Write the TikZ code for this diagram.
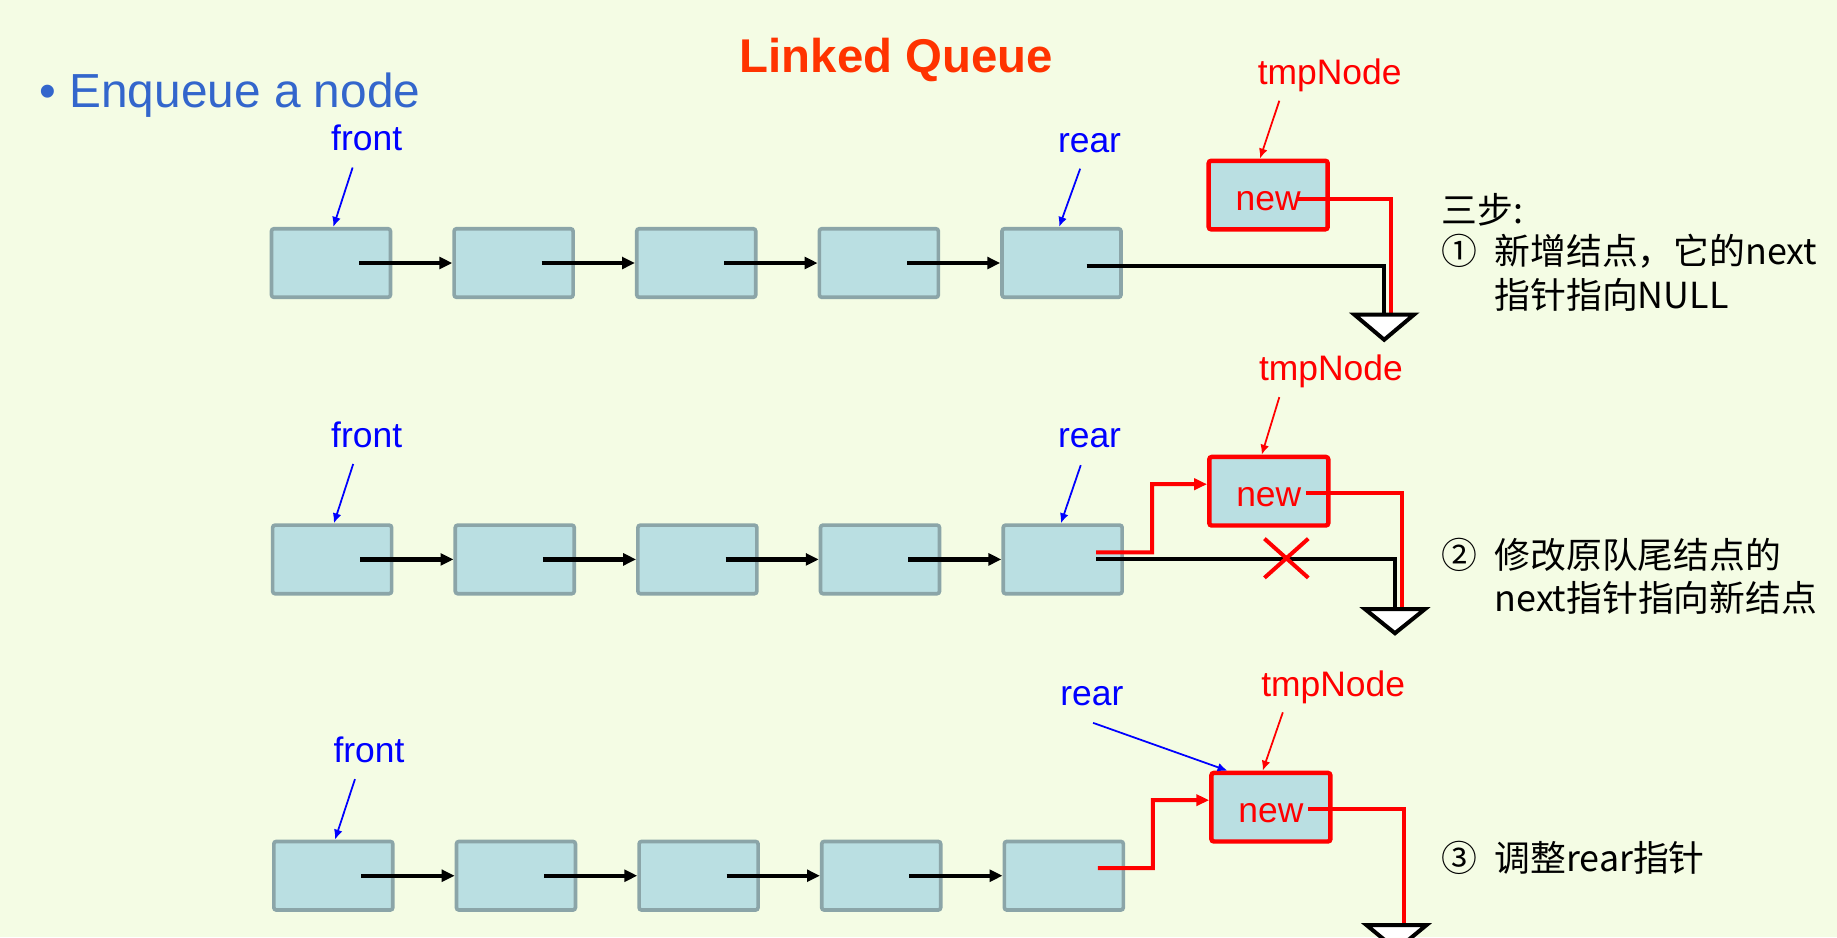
\documentclass[tikz,border=0pt]{standalone}
\usepackage{fontspec}
\setmainfont{Liberation Sans}
\newfontfamily\cjk{Noto Sans CJK SC}
\usetikzlibrary{arrows.meta,calc,positioning,shapes.misc}

\definecolor{bgc}{RGB}{244,252,228}
\definecolor{cellfill}{RGB}{186,223,226}
\definecolor{cellline}{RGB}{139,165,168}
\definecolor{titlered}{RGB}{255,51,0}
\definecolor{bulletblue}{RGB}{51,102,204}

\tikzset{
    x=0.01cm, y=-0.01cm, node distance = 0.512cm,
    cell/.style = {rectangle, draw=cellline, fill=cellfill, line width=0.031cm, rounded corners=0.6pt, minimum width=1.015cm, minimum height=0.585cm, inner sep=0pt},
    newcell/.style = {cell, draw=red, line width=0.038cm, text=red, text height=0.74em, font=\fontsize{8.6}{10}\selectfont},
    lbl/.style = {inner sep=0pt, font=\fontsize{8.6}{10}\selectfont},
    ptrlbl/.style = {lbl, text=blue},
    tmplbl/.style = {lbl, text=red},
    ptr/.style = {-{Latex[length=0.085cm,width=0.075cm]}, blue, line width=0.015cm},
    tmpptr/.style = {ptr, red},
    nextptr/.style = {-{Triangle[length=0.11cm,width=0.1cm]}, line width=0.036cm},
    nullptr/.style = {line width=0.034cm},
    redptr/.style = {red, line width=0.034cm},
    redarrow/.style = {redptr, -{Triangle[length=0.11cm,width=0.095cm]}},
    gnd/.style = {fill=white, draw=black, line width=0.034cm},
    stepnum/.style = {inner sep=0pt, anchor=base west, font=\cjk\fontsize{8.7}{10.5}\selectfont}
}

\begin{document}
\begin{tikzpicture}

    \useasboundingbox (0,0) rectangle (1568,800);
    \clip (0,0) rectangle (1568,800);
    \fill[bgc] (0,0) rectangle (1568,800);

    \node[text=titlered, font=\bfseries\fontsize{11.5}{13}\selectfont] (title) at (765,51) {Linked Queue};
    \node[text=bulletblue, font=\fontsize{11.6}{14}\selectfont, anchor=west, inner sep=0pt] (enq) at (33,81) {• Enqueue a node};

    % first row: new node points to NULL
    \node[cell] (r1n1) at (282.5,224.5) {};
    \node[cell] (r1n2) [right = of r1n1] {};
    \node[cell] (r1n3) [right = of r1n2] {};
    \node[cell] (r1n4) [right = of r1n3] {};
    \node[cell] (r1n5) [right = of r1n4] {};
    \node[newcell] (r1new) at (1082.5,166.5) {new};

    \draw[nextptr] ([xshift=0.24cm]r1n1.center) -- (r1n2.west);
    \draw[nextptr] ([xshift=0.24cm]r1n2.center) -- (r1n3.west);
    \draw[nextptr] ([xshift=0.24cm]r1n3.center) -- (r1n4.west);
    \draw[nextptr] ([xshift=0.24cm]r1n4.center) -- (r1n5.west);

    \coordinate (g1) at (1181.5,268.5);
    \draw[nullptr] ([xshift=0.215cm,yshift=-0.025cm]r1n5.center) -| (g1);
    \draw[redptr] ([xshift=0.255cm,yshift=-0.03cm]r1new.center) -| ([xshift=0.055cm]g1);
    \draw[gnd] ($(g1)+(-25.5,0)$) -- ($(g1)+(0,21.5)$) -- ($(g1)+(25.5,0)$) -- cycle;

    \node[ptrlbl] (front1) at (313,118) {front};
    \draw[ptr] ($(front1)+(-12,25)$) -- ([xshift=0.02cm]r1n1.north);
    \node[ptrlbl] (rear1) at (930,122) {rear};
    \draw[ptr] ($(rear1)+(-8,22)$) -- ([xshift=-0.02cm]r1n5.north);
    \node[tmplbl] (tmp1) at (1135,64) {tmpNode};
    \draw[tmpptr] ($(tmp1)+(-43,22)$) -- ([xshift=-0.07cm]r1new.north);

    % second row: old rear points to new node
    \node[cell] (r2n1) at (283.5,477.5) {};
    \node[cell] (r2n2) [right = of r2n1] {};
    \node[cell] (r2n3) [right = of r2n2] {};
    \node[cell] (r2n4) [right = of r2n3] {};
    \node[cell] (r2n5) [right = of r2n4] {};
    \node[newcell] (r2new) at (1083,419.3) {new};

    \draw[nextptr] ([xshift=0.24cm]r2n1.center) -- (r2n2.west);
    \draw[nextptr] ([xshift=0.24cm]r2n2.center) -- (r2n3.west);
    \draw[nextptr] ([xshift=0.24cm]r2n3.center) -- (r2n4.west);
    \draw[nextptr] ([xshift=0.24cm]r2n4.center) -- (r2n5.west);

    \coordinate (g2) at (1190.7,520);
    \draw[nullptr] ([xshift=0.285cm]r2n5.center) -| (g2);
    \draw[redarrow] ([xshift=0.285cm,yshift=0.06cm]r2n5.center) -| ($(r2new.west)+(-47,-6)$) -- ([yshift=0.06cm]r2new.west);
    \draw[redptr] ([xshift=0.32cm,yshift=-0.017cm]r2new.center) -| ([xshift=0.063cm]g2);
    \draw[gnd] ($(g2)+(-25.5,0)$) -- ($(g2)+(0,20.5)$) -- ($(g2)+(25.5,0)$) -- cycle;
    \node[cross out, draw=red, line width=0.034cm, minimum width=0.34cm, minimum height=0.3cm, inner sep=0pt] (cut) at (1098,476.5) {};

    \node[ptrlbl] (front2) at (313,371) {front};
    \draw[ptr] ($(front2)+(-11.5,25)$) -- ([xshift=0.015cm]r2n1.north);
    \node[ptrlbl] (rear2) at (930,374) {rear};
    \draw[ptr] ($(rear2)+(-7.5,23)$) -- ([xshift=-0.015cm]r2n5.north);
    \node[tmplbl] (tmp2) at (1136,317) {tmpNode};
    \draw[tmpptr] ($(tmp2)+(-44,22)$) -- ([xshift=-0.06cm]r2new.north);

    % third row: rear moves to new node
    \node[cell] (r3n1) at (284.5,747.5) {};
    \node[cell] (r3n2) [right = of r3n1] {};
    \node[cell] (r3n3) [right = of r3n2] {};
    \node[cell] (r3n4) [right = of r3n3] {};
    \node[cell] (r3n5) [right = of r3n4] {};
    \node[newcell] (r3new) at (1084.8,689) {new};

    \draw[nextptr] ([xshift=0.24cm]r3n1.center) -- (r3n2.west);
    \draw[nextptr] ([xshift=0.24cm]r3n2.center) -- (r3n3.west);
    \draw[nextptr] ([xshift=0.24cm]r3n3.center) -- (r3n4.west);
    \draw[nextptr] ([xshift=0.24cm]r3n4.center) -- (r3n5.west);

    \coordinate (g3) at (1192,789.7);
    \draw[redarrow] ([xshift=0.29cm,yshift=0.065cm]r3n5.center) -| ($(r3new.west)+(-48,-6)$) -- ([yshift=0.06cm]r3new.west);
    \draw[redptr] ([xshift=0.32cm,yshift=-0.015cm]r3new.center) -| ([xshift=0.064cm]g3);
    \draw[gnd] ($(g3)+(-25.5,0)$) -- ($(g3)+(0,21)$) -- ($(g3)+(25.5,0)$) -- cycle;

    \node[ptrlbl] (front3) at (315,640) {front};
    \draw[ptr] ($(front3)+(-12,25)$) -- ([xshift=0.015cm]r3n1.north);
    \node[ptrlbl] (rear3) at (932,594) {rear};
    \draw[ptr] ($(rear3)+(1,23)$) -- ([xshift=-0.37cm]r3new.north);
    \node[tmplbl] (tmp3) at (1138,587) {tmpNode};
    \draw[tmpptr] ($(tmp3)+(-43,21)$) -- ([xshift=-0.07cm]r3new.north);

    % the three steps
    \node[stepnum] (head) at (1230,191) {三步:};
    \node[stepnum] (s1) at (1230,226) {①};
    \node[stepnum] (s1a) at (1275,226) {新增结点，它的next};
    \node[stepnum] (s1b) at (1275,263) {指针指向NULL};
    \node[stepnum] (s2) at (1230,485) {②};
    \node[stepnum] (s2a) at (1275,485) {修改原队尾结点的};
    \node[stepnum] (s2b) at (1275,522) {next指针指向新结点};
    \node[stepnum] (s3) at (1230,744) {③};
    \node[stepnum] (s3a) at (1275,744) {调整rear指针};

\end{tikzpicture}
\end{document}
